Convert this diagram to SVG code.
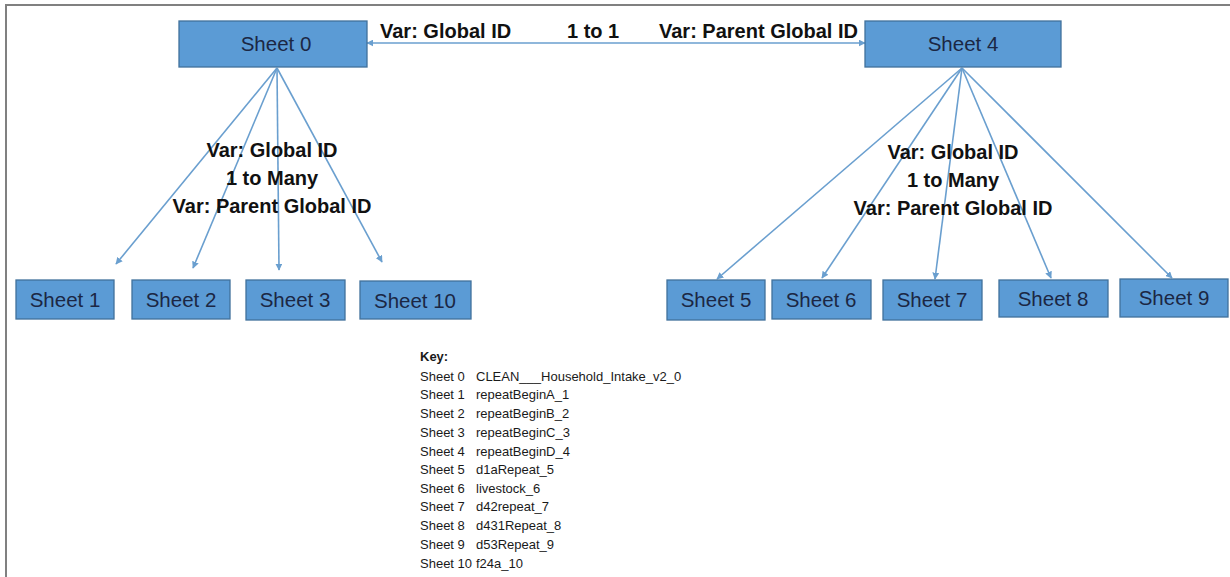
<svg xmlns="http://www.w3.org/2000/svg" width="1230" height="577" viewBox="0 0 1230 577">
<style>
.box{fill:#5b9bd5;stroke:#41719c;stroke-width:1.3}
.lbl{font-family:"Liberation Sans",Arial,sans-serif;font-size:20.5px;fill:#1b2744;text-anchor:middle}
.rel{font-family:"Liberation Sans",Arial,sans-serif;font-size:20px;font-weight:bold;fill:#111}
.mid{text-anchor:middle}
.key{font-family:"Liberation Sans",Arial,sans-serif;font-size:13px;fill:#1a1a1a}
.conn{stroke:#6a9fcf;stroke-width:1.6;fill:none;marker-end:url(#ah)}
</style>
<defs>
<marker id="ah" viewBox="0 0 10 10" refX="9" refY="5" markerWidth="7" markerHeight="7" orient="auto-start-reverse" markerUnits="userSpaceOnUse">
<path d="M0,0 L10,5 L0,10 z" fill="#6a9fcf"/>
</marker>
</defs>
<rect width="1230" height="577" fill="#fff"/>
<path d="M6,577 V5 H1230" fill="none" stroke="#808080" stroke-width="2"/>

<g id="connectors">
<line class="conn" x1="367" y1="43" x2="865" y2="43" marker-start="url(#ah)"/>
<line class="conn" x1="277" y1="68" x2="116" y2="264"/>
<line class="conn" x1="277" y1="68" x2="193" y2="268"/>
<line class="conn" x1="277" y1="68" x2="279" y2="270"/>
<line class="conn" x1="277" y1="68" x2="382" y2="262"/>
<line class="conn" x1="962" y1="68" x2="717" y2="279"/>
<line class="conn" x1="962" y1="68" x2="822" y2="278"/>
<line class="conn" x1="962" y1="68" x2="935" y2="279"/>
<line class="conn" x1="962" y1="68" x2="1051" y2="278"/>
<line class="conn" x1="962" y1="68" x2="1172" y2="278"/>
</g>

<g id="edge-labels">
<text class="rel" x="380" y="38">Var: Global ID</text>
<text class="rel" x="567" y="38">1 to 1</text>
<text class="rel" x="659" y="38">Var: Parent Global ID</text>
<text class="rel mid" x="272" y="157">Var: Global ID</text>
<text class="rel mid" x="272" y="185">1 to Many</text>
<text class="rel mid" x="272" y="213">Var: Parent Global ID</text>
<text class="rel mid" x="953" y="159">Var: Global ID</text>
<text class="rel mid" x="953" y="187">1 to Many</text>
<text class="rel mid" x="953" y="215">Var: Parent Global ID</text>
</g>

<g id="sheet0"><rect class="box" x="179" y="21" width="188" height="46"/><text class="lbl" x="276" y="51">Sheet 0</text></g>
<g id="sheet4"><rect class="box" x="865" y="21" width="196" height="46"/><text class="lbl" x="963" y="51">Sheet 4</text></g>
<g id="sheet1"><rect class="box" x="16" y="280" width="98" height="39"/><text class="lbl" x="65" y="307">Sheet 1</text></g>
<g id="sheet2"><rect class="box" x="132" y="280" width="98" height="39"/><text class="lbl" x="181" y="307">Sheet 2</text></g>
<g id="sheet3"><rect class="box" x="246" y="280" width="99" height="40"/><text class="lbl" x="295" y="307">Sheet 3</text></g>
<g id="sheet10"><rect class="box" x="360" y="281" width="111" height="38"/><text class="lbl" x="415" y="308">Sheet 10</text></g>
<g id="sheet5"><rect class="box" x="667" y="280" width="98" height="40"/><text class="lbl" x="716" y="307">Sheet 5</text></g>
<g id="sheet6"><rect class="box" x="772" y="280" width="99" height="39"/><text class="lbl" x="821" y="307">Sheet 6</text></g>
<g id="sheet7"><rect class="box" x="883" y="280" width="99" height="40"/><text class="lbl" x="932" y="307">Sheet 7</text></g>
<g id="sheet8"><rect class="box" x="999" y="280" width="109" height="37"/><text class="lbl" x="1053" y="306">Sheet 8</text></g>
<g id="sheet9"><rect class="box" x="1120" y="279" width="108" height="38"/><text class="lbl" x="1174" y="305">Sheet 9</text></g>

<g id="key">
<text class="key" x="420" y="361" font-weight="bold">Key:</text>
<text class="key" x="420" y="381">Sheet 0</text><text class="key" x="476" y="381">CLEAN___Household_Intake_v2_0</text>
<text class="key" x="420" y="399">Sheet 1</text><text class="key" x="476" y="399">repeatBeginA_1</text>
<text class="key" x="420" y="418">Sheet 2</text><text class="key" x="476" y="418">repeatBeginB_2</text>
<text class="key" x="420" y="437">Sheet 3</text><text class="key" x="476" y="437">repeatBeginC_3</text>
<text class="key" x="420" y="456">Sheet 4</text><text class="key" x="476" y="456">repeatBeginD_4</text>
<text class="key" x="420" y="474">Sheet 5</text><text class="key" x="476" y="474">d1aRepeat_5</text>
<text class="key" x="420" y="493">Sheet 6</text><text class="key" x="476" y="493">livestock_6</text>
<text class="key" x="420" y="511">Sheet 7</text><text class="key" x="476" y="511">d42repeat_7</text>
<text class="key" x="420" y="530">Sheet 8</text><text class="key" x="476" y="530">d431Repeat_8</text>
<text class="key" x="420" y="549">Sheet 9</text><text class="key" x="476" y="549">d53Repeat_9</text>
<text class="key" x="420" y="568">Sheet 10</text><text class="key" x="476" y="568">f24a_10</text>
</g>
</svg>
